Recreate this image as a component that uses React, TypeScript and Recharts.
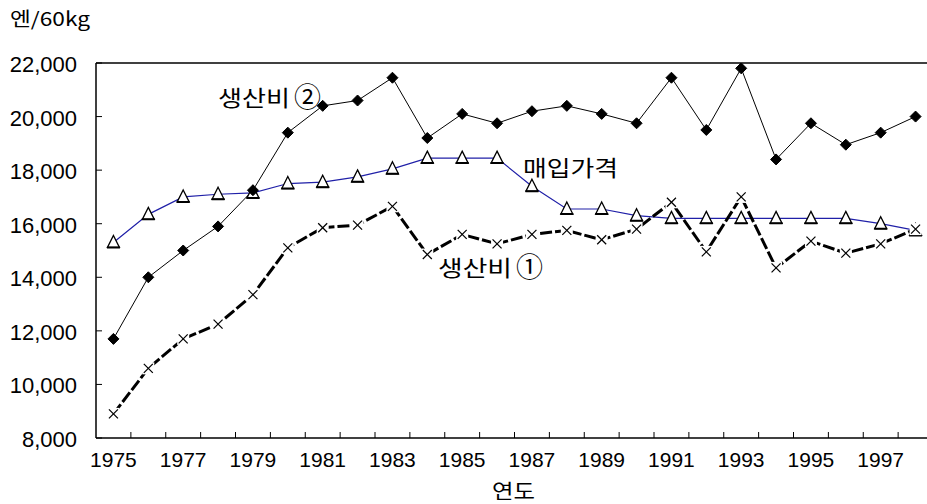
import React from 'react';
import { LineChart, Line, XAxis, YAxis, ReferenceLine } from 'recharts';

const years = ['1975','1976','1977','1978','1979','1980','1981','1982','1983','1984','1985','1986','1987','1988','1989','1990','1991','1992','1993','1994','1995','1996','1997','1998'];
const cost2 = [11700,14000,15000,15900,17250,19400,20400,20600,21450,19200,20100,19750,20200,20400,20100,19750,21450,19500,21800,18400,19750,18950,19400,20000];
const purchase = [15300,16350,17000,17100,17150,17500,17550,17750,18050,18450,18450,18450,17400,16550,16550,16300,16200,16200,16200,16200,16200,16200,16000,15750];
const cost1 = [8900,10600,11700,12250,13350,15100,15850,15950,16650,14850,15600,15250,15600,15750,15400,15800,16800,14950,17000,14350,15350,14900,15250,15800];
const yTicks = [8000,10000,12000,14000,16000,18000,20000,22000];

const data = years.map((y, i) => ({ year: y, cost2: cost2[i], purchase: purchase[i], cost1: cost1[i] }));

const LATIN = "'Liberation Sans', Arial, sans-serif";
const KR = "'Noto Sans CJK KR', sans-serif";

function XTick(props: any) {
  const { x, y, payload, index } = props;
  const half = payload && typeof payload.offset === 'number' && payload.offset > 0 ? payload.offset : 17.44;
  return (
    <g>
      <line x1={x + half} x2={x + half} y1={y} y2={y - 6} stroke="#000" strokeWidth={1} />
      {index % 2 === 0 && (
        <text x={x} y={y + 29} textAnchor="middle" fontFamily={LATIN} fontSize={21} fill="#000">
          {payload.value}
        </text>
      )}
    </g>
  );
}

function YTick(props: any) {
  const { x, y, payload } = props;
  return (
    <g>
      <line x1={x} x2={x + 6} y1={y} y2={y} stroke="#000" strokeWidth={1} />
      <text x={x - 19} y={y + 9} textAnchor="end" fontFamily={LATIN} fontSize={22} fill="#000">
        {Number(payload.value).toLocaleString('en-US')}
      </text>
    </g>
  );
}

function Diamond(props: any) {
  const { cx, cy } = props;
  if (cx == null || cy == null) return null;
  const r = 5.5;
  return <polygon points={`${cx},${cy - r} ${cx + r},${cy} ${cx},${cy + r} ${cx - r},${cy}`} fill="#000" stroke="#000" strokeWidth={1} />;
}

function Triangle(props: any) {
  const { cx, cy } = props;
  if (cx == null || cy == null) return null;
  return (
    <g>
      <polygon points={`${cx},${cy - 7} ${cx + 6},${cy + 5} ${cx - 6},${cy + 5}`} fill="#fff" stroke="#000" strokeWidth={1.3} />
      <line x1={cx - 6.5} x2={cx + 6.5} y1={cy + 5} y2={cy + 5} stroke="#000" strokeWidth={2} />
    </g>
  );
}

function Cross(props: any) {
  const { cx, cy } = props;
  if (cx == null || cy == null) return null;
  const r = 4.5;
  return (
    <g>
      <rect x={cx - 6} y={cy - 6} width={12} height={12} fill="#fff" />
      <line x1={cx - r} y1={cy - r} x2={cx + r} y2={cy + r} stroke="#000" strokeWidth={1.2} />
      <line x1={cx - r} y1={cy + r} x2={cx + r} y2={cy - r} stroke="#000" strokeWidth={1.2} />
    </g>
  );
}

export default function App() {
  return (
    <div style={{ position: 'absolute', left: 0, top: 0, width: 927, height: 504, overflow: 'hidden', background: '#fff' }}>
      <LineChart width={945} height={504} data={data} margin={{ top: 63, right: 12, bottom: 0, left: 0 }}>
        <XAxis
          dataKey="year"
          type="category"
          scale="band"
          interval={0}
          height={66}
          tickSize={0}
          tickMargin={0}
          tickLine={false}
          axisLine={{ stroke: '#000', strokeWidth: 1.5 }}
          tick={<XTick />}
        />
        <YAxis
          type="number"
          domain={[8000, 22000]}
          ticks={yTicks}
          width={96}
          allowDataOverflow
          tickSize={0}
          tickMargin={0}
          tickLine={false}
          axisLine={{ stroke: '#000', strokeWidth: 1.5 }}
          tick={<YTick />}
        />
        <ReferenceLine y={22000} stroke="#000" strokeWidth={1.5} />
        <Line dataKey="purchase" stroke="#2020a8" strokeWidth={1.2} dot={<Triangle />} activeDot={false} isAnimationActive={false} />
        <Line dataKey="cost2" stroke="#000" strokeWidth={1} dot={<Diamond />} activeDot={false} isAnimationActive={false} />
        <Line dataKey="cost1" stroke="#000" strokeWidth={3} strokeDasharray="12 3" dot={<Cross />} activeDot={false} isAnimationActive={false} />
      </LineChart>
      <svg width={927} height={504} style={{ position: 'absolute', left: 0, top: 0, pointerEvents: 'none' }}>
        <text x={10} y={26} fontFamily={KR} fontSize={19} fill="#000" textLength={80} lengthAdjust="spacingAndGlyphs">엔/60kg</text>
        <text x={218} y={106} fontFamily={KR} fontSize={22} fill="#000" textLength={72} lengthAdjust="spacingAndGlyphs">생산비</text>
        <text x={294} y={107} fontFamily={KR} fontSize={27} fill="#000">②</text>
        <text x={523} y={176} fontFamily={KR} fontSize={22} fill="#000" textLength={95} lengthAdjust="spacingAndGlyphs">매입가격</text>
        <text x={438} y={276} fontFamily={KR} fontSize={22} fill="#000" textLength={74} lengthAdjust="spacingAndGlyphs">생산비</text>
        <text x={516} y={277} fontFamily={KR} fontSize={27} fill="#000">①</text>
        <text x={492} y={499} fontFamily={KR} fontSize={20} fill="#000" textLength={43} lengthAdjust="spacingAndGlyphs">연도</text>
      </svg>
    </div>
  );
}
